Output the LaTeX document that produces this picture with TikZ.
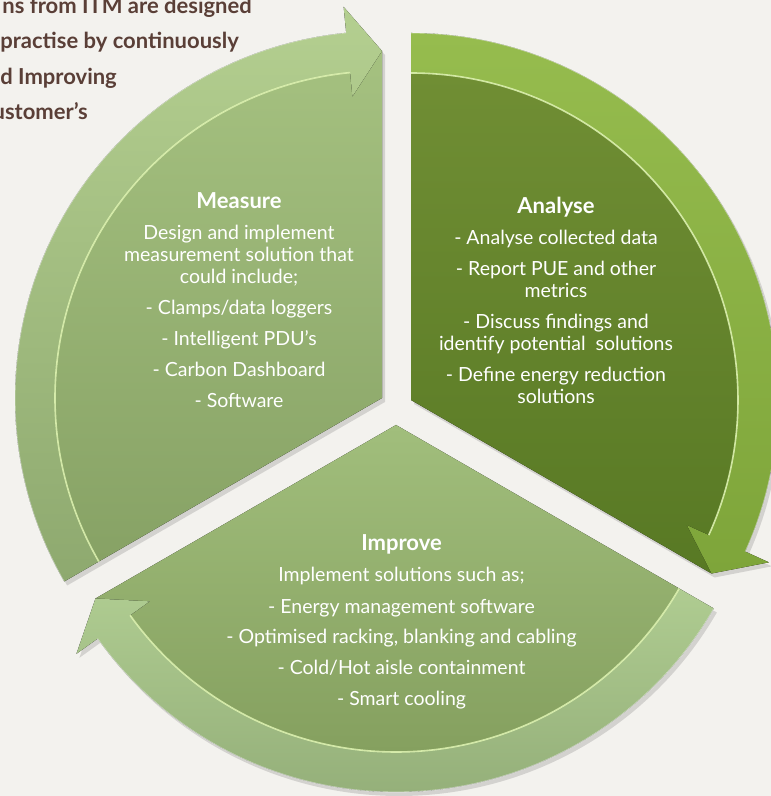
\documentclass[tikz,border=0pt]{standalone}
\usepackage{fontspec}
\setmainfont{Lato}
\usetikzlibrary{calc}
\definecolor{bg}{HTML}{F3F2EE}
\definecolor{brownTxt}{HTML}{5A3F37}
\definecolor{hl}{HTML}{DDF2B0}
\definecolor{meaBandT}{HTML}{B4CF90}
\definecolor{meaBandB}{HTML}{8EA96F}
\definecolor{meaWedT}{HTML}{A5C180}
\definecolor{meaWedB}{HTML}{87A265}
\definecolor{anaBandT}{HTML}{96BC4E}
\definecolor{anaBandB}{HTML}{7EA53A}
\definecolor{anaWedT}{HTML}{708E34}
\definecolor{anaWedB}{HTML}{587924}
\definecolor{impBandT}{HTML}{AFCC91}
\definecolor{impBandB}{HTML}{95B07A}
\definecolor{impWedT}{HTML}{A1BE7C}
\definecolor{impWedB}{HTML}{85A05F}
% #1,#2 apex; #3 start angle; #4 tip angle; #5 head-base angle; #6/#7 band colours; #8/#9 wedge colours
\newcommand\cyclepiece[9]{%
  \begin{scope}[shift={(#1,#2)}]
    \fill[black,opacity=0.13,shift={(3,-4)}]
      (0,0) -- (#3:367) arc[start angle=#3,end angle=#5,radius=367]
      -- (#5:393) -- (#4:347) -- cycle;
    \fill[top color=#8,bottom color=#9]
      (0,0) -- (#3:327) arc[start angle=#3,end angle=#5,radius=327]
      -- (#4:347) -- cycle;
    \fill[top color=#6,bottom color=#7]
      (#3:327) -- (#3:367) arc[start angle=#3,end angle=#5,radius=367]
      -- (#5:393) -- (#4:347) -- (#5:303) -- (#5:327)
      arc[start angle=#5,end angle=#3,radius=327] -- cycle;
    \draw[hl,line width=1.6,opacity=0.9]
      (#3:327) arc[start angle=#3,end angle=#5,radius=327];
    \draw[white,line width=0.8,opacity=0.5]
      (#3:367) arc[start angle=#3,end angle=#5,radius=367];
  \end{scope}}
\newcommand\ttl[1]{{\bfseries\fontsize{22}{22}\selectfont #1}}
\tikzset{
  sectortext/.style={align=center,text=white,anchor=base,inner sep=0pt,
    font=\fontsize{19.5}{22}\selectfont},
  introtext/.style={anchor=base east,inner sep=0pt,text=brownTxt,
    font=\bfseries\fontsize{22}{22}\selectfont}
}
\begin{document}
\begin{tikzpicture}[x=1pt,y=1pt]
\useasboundingbox (0,0) rectangle (771,796);
\clip (0,0) rectangle (771,796);
\fill[bg] (0,0) rectangle (771,796);

% intro text (cut at the left edge)
\node[introtext] (l1) at (252,782) {ns from ITM are designed};
\node[introtext] (l2) at (239,747) {practise by continuously};
\node[introtext] (l3) at (117,711) {d Improving};
\node[introtext] (l4) at (88,676) {ustomer’s};

% pieces
\cyclepiece{382}{398}{210}{90}{95.6}{meaBandT}{meaBandB}{meaWedT}{meaWedB}
\cyclepiece{396}{371}{330}{210}{215.6}{impBandT}{impBandB}{impWedT}{impWedB}
\cyclepiece{411}{396}{90}{-30}{-24.4}{anaBandT}{anaBandB}{anaWedT}{anaWedB}

% texts (anchor = baseline of the last line)
\node[sectortext] (measure) at (239,388) {\ttl{Measure}\\[9pt]
  Design and implement\\ measurement solution that\\ could include;\\[9pt]
  - Clamps/data loggers\\[9pt] - Intelligent PDU{\char"0027}s\\[9pt]
  - Carbon Dashboard\\[9pt] - Software};
\node[sectortext] (analyse) at (556,392) {\ttl{Analyse}\\[9pt]
  - Analyse collected data\\[9pt] - Report PUE and other\\ metrics\\[9pt]
  - Discuss findings and\\ identify potential\ \ solutions\\[9pt]
  - Define energy reduction\\ solutions};
\node[sectortext] (improve) at (401.5,90) {\ttl{Improve}\\[9pt]
  Implement solutions such as;\\[9pt] - Energy management software\\[9pt]
  - Optimised racking, blanking and cabling\\[9pt]
  - Cold/Hot aisle containment\\[9pt] - Smart cooling};
\end{tikzpicture}
\end{document}
